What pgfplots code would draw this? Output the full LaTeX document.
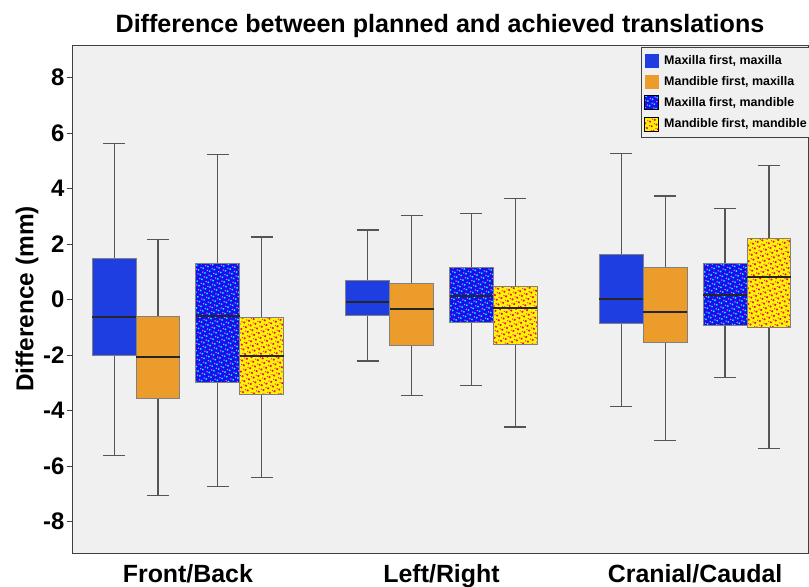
\documentclass[border=0pt]{standalone}
\usepackage{pgfplots}
\pgfplotsset{compat=1.18}
\usepgfplotslibrary{statistics}
\usetikzlibrary{patterns.meta}
\usepackage{fontspec}
\setmainfont{Liberation Sans}
\definecolor{bggray}{RGB}{240,240,240}
\definecolor{mblue}{RGB}{31,62,226}
\definecolor{morange}{RGB}{236,156,42}
\definecolor{pblue}{RGB}{18,18,235}
\definecolor{pyellow}{RGB}{255,245,0}
\definecolor{pred}{RGB}{230,20,30}
\definecolor{wgray}{RGB}{85,85,85}
\tikzset{
  mxfill/.style={fill=mblue},
  mdfill/.style={fill=morange},
  pbfill/.style={fill=pblue,
    postaction={pattern={Dots[distance=5bp,radius=1bp,angle=20]},pattern color=cyan},
    postaction={pattern={Dots[distance=5bp,radius=0.8bp,angle=20,xshift=2.5bp,yshift=2.5bp]},pattern color=magenta!60!white}},
  pyfill/.style={fill=pyellow,
    postaction={pattern={Dots[distance=5bp,radius=1.2bp,angle=20]},pattern color=pred},
    postaction={pattern={Dots[distance=5bp,radius=0.7bp,angle=20,xshift=2.5bp,yshift=2.5bp]},pattern color=magenta}},
}
\pgfplotsset{
  bx/.style={
    draw=wgray, line width=1.1bp,
    boxplot/every box/.style={draw=gray, line width=0.9bp, #1},
    boxplot/every whisker/.style={draw=wgray, line width=1.2bp},
    boxplot/every median/.style={draw=black!85, line width=2bp},
    boxplot/box extend=0.173,
    boxplot/whisker extend=0.087,
    forget plot,
  },
}
\begin{document}
\begin{tikzpicture}
\path[use as bounding box] (-72bp,-34bp) rectangle (737bp,553bp);
\begin{axis}[
  scale only axis,
  width=736bp, height=508bp,
  at={(0,0)}, anchor=south west,
  xmin=0.543, xmax=3.445,
  ymin=-9.13, ymax=9.18,
  axis background/.style={fill=bggray},
  axis line style={draw=black!75, line width=0.8bp},
  xtick={1,2,3},
  xticklabels={Front/Back,Left/Right,Cranial/Caudal},
  xtick style={draw=none},
  xticklabel style={anchor=base, yshift=-29bp, font=\fontsize{25}{29}\selectfont\bfseries},
  ytick={-8,-6,-4,-2,0,2,4,6,8},
  yticklabels={-8,-6,-4,-2,0,2,4,6,8},
  ytick pos=left,
  ytick align=outside,
  major tick length=4.5bp,
  ytick style={draw=black!75, line width=0.8bp},
  yticklabel style={font=\fontsize{24}{28}\selectfont\bfseries, inner sep=0pt, xshift=-3bp},
  ylabel={Difference (mm)},
  every axis y label/.style={at={(axis description cs:-0.061,0.5)}, rotate=90, anchor=center, font=\fontsize{24.5}{28}\selectfont\bfseries},
  title={Difference between planned and achieved translations},
  every axis title/.style={at={(axis description cs:0.5,1)}, anchor=base, yshift=12bp, font=\fontsize{25.2}{29}\selectfont\bfseries},
  boxplot/draw direction=y,
  legend style={at={(axis description cs:0.7731,1)}, anchor=north west, yshift=-2bp,
    fill=bggray, draw=black!75, line width=0.8bp,
    font=\fontsize{12.5}{14}\selectfont\bfseries, row sep=6.5bp, inner xsep=3bp, inner ysep=6bp},
  legend cell align=left,
  legend image code/.code={\path[#1, draw=none] (0bp,-7bp) rectangle (14bp,7bp);},
]
\addlegendimage{mxfill}
\addlegendentry{\hspace{3bp}Maxilla first, maxilla}
\addlegendimage{mdfill}
\addlegendentry{\hspace{3bp}Mandible first, maxilla}
\addlegendimage{pbfill}
\addlegendentry{\hspace{3bp}Maxilla first, mandible}
\addlegendimage{pyfill}
\addlegendentry{\hspace{3bp}Mandible first, mandible}

% Front/Back
\addplot[bx={mxfill}, boxplot prepared={lower whisker=-5.63, lower quartile=-2.00, median=-0.61, upper quartile=1.48, upper whisker=5.64, draw position=0.709}] coordinates {};
\addplot[bx={mdfill}, boxplot prepared={lower whisker=-7.06, lower quartile=-3.55, median=-2.06, upper quartile=-0.62, upper whisker=2.16, draw position=0.882}] coordinates {};
\addplot[bx={pbfill}, boxplot prepared={lower whisker=-6.74, lower quartile=-2.99, median=-0.59, upper quartile=1.31, upper whisker=5.23, draw position=1.118}] coordinates {};
\addplot[bx={pyfill}, boxplot prepared={lower whisker=-6.41, lower quartile=-3.43, median=-2.04, upper quartile=-0.64, upper whisker=2.26, draw position=1.291}] coordinates {};
% Left/Right
\addplot[bx={mxfill}, boxplot prepared={lower whisker=-2.21, lower quartile=-0.58, median=-0.08, upper quartile=0.70, upper whisker=2.51, draw position=1.709}] coordinates {};
\addplot[bx={mdfill}, boxplot prepared={lower whisker=-3.46, lower quartile=-1.66, median=-0.32, upper quartile=0.58, upper whisker=3.03, draw position=1.882}] coordinates {};
\addplot[bx={pbfill}, boxplot prepared={lower whisker=-3.10, lower quartile=-0.82, median=0.13, upper quartile=1.15, upper whisker=3.10, draw position=2.118}] coordinates {};
\addplot[bx={pyfill}, boxplot prepared={lower whisker=-4.59, lower quartile=-1.60, median=-0.31, upper quartile=0.49, upper whisker=3.66, draw position=2.291}] coordinates {};
% Cranial/Caudal
\addplot[bx={mxfill}, boxplot prepared={lower whisker=-3.84, lower quartile=-0.86, median=0.03, upper quartile=1.64, upper whisker=5.28, draw position=2.709}] coordinates {};
\addplot[bx={mdfill}, boxplot prepared={lower whisker=-5.08, lower quartile=-1.54, median=-0.44, upper quartile=1.15, upper whisker=3.74, draw position=2.882}] coordinates {};
\addplot[bx={pbfill}, boxplot prepared={lower whisker=-2.81, lower quartile=-0.94, median=0.17, upper quartile=1.29, upper whisker=3.28, draw position=3.118}] coordinates {};
\addplot[bx={pyfill}, boxplot prepared={lower whisker=-5.37, lower quartile=-0.99, median=0.83, upper quartile=2.22, upper whisker=4.85, draw position=3.291}] coordinates {};
\end{axis}
\end{tikzpicture}
\end{document}
